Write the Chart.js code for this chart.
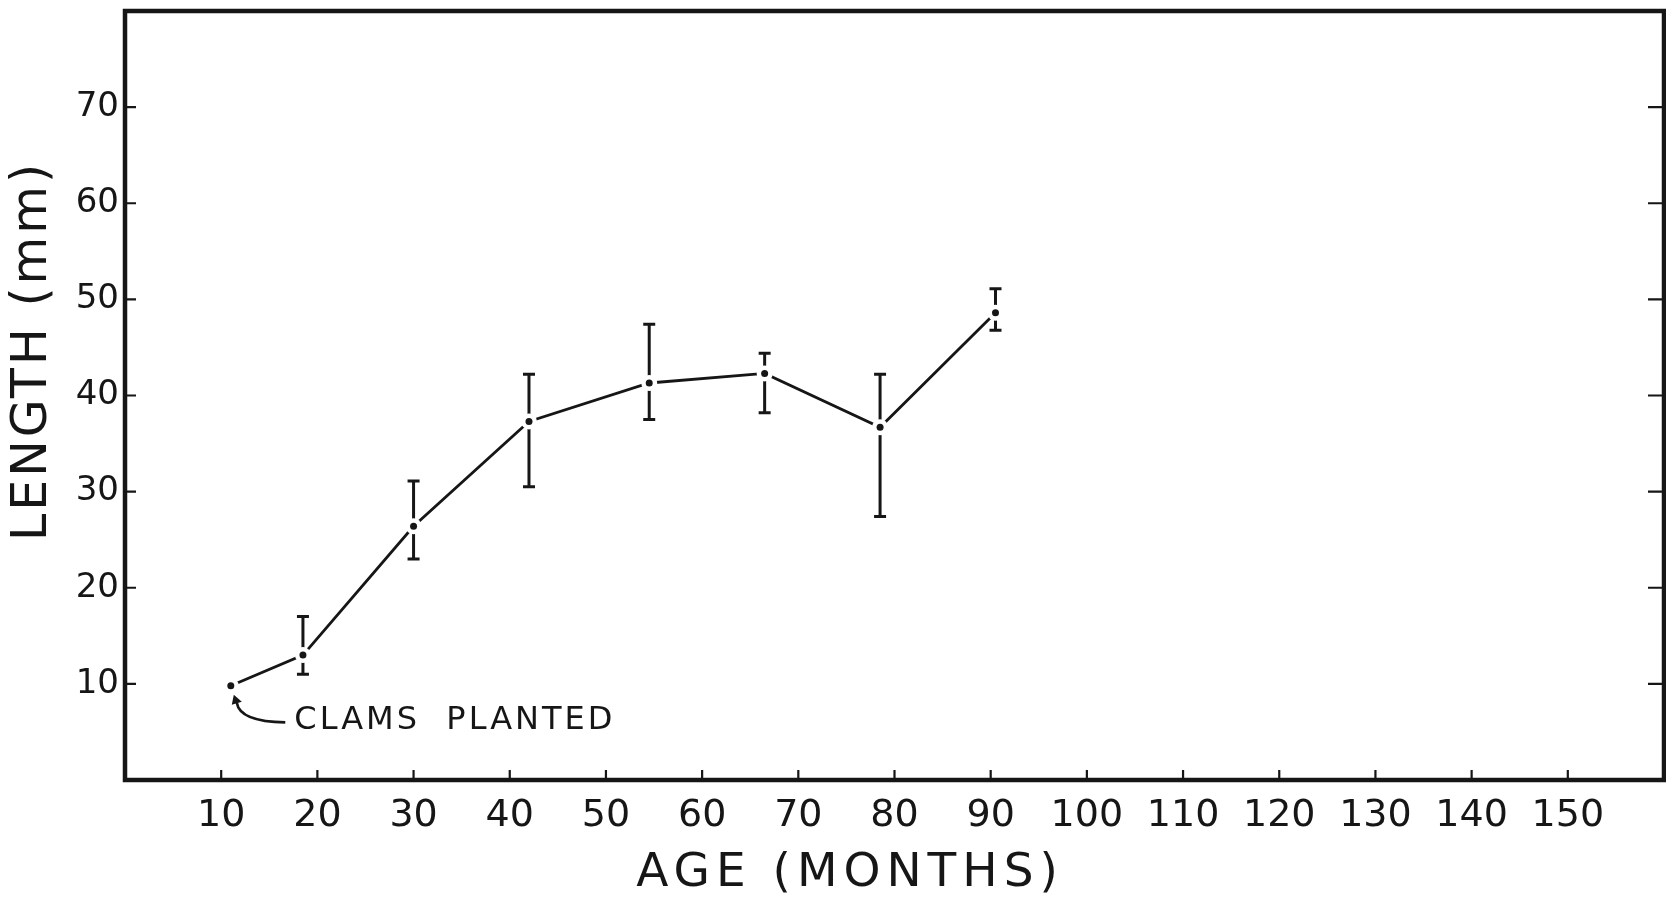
<!DOCTYPE html>
<html>
<head>
<meta charset="utf-8">
<script src="https://cdn.jsdelivr.net/npm/chart.js@4"></script>
<style>
  html, body { margin: 0; padding: 0; background: #fff; overflow: hidden; }
  /* a little wider than the window: the right frame edge sits just off the page, as in the scan */
  #wrap { width: 1672px; height: 897px; position: relative; }
</style>
</head>
<body>
<div id="wrap"><canvas id="growth"></canvas></div>
<script>
// Data: mean shell length by age, with range bars
const ageMonths = [11, 18.5, 30, 42, 54.5, 66.5, 78.5, 90.5];
const lengthMm  = [9.8, 13.0, 26.4, 37.3, 41.3, 42.3, 36.7, 48.6];
const errHigh   = [null, 17.0, 31.1, 42.2, 47.4, 44.4, 42.2, 51.1];
const errLow    = [null, 11.0, 23.0, 30.5, 37.5, 38.2, 27.4, 46.8];

const xTickVals = [10, 20, 30, 40, 50, 60, 70, 80, 90, 100, 110, 120, 130, 140, 150];
const yTickVals = [10, 20, 30, 40, 50, 60, 70];

const xTitle = 'AGE (MONTHS)';
const yTitle = 'LENGTH (mm)';
const noteText = 'CLAMS  PLANTED';
const noteAge = 17.6;   // left edge of the note, in months
const noteLen = 6.2;    // vertical middle of the note, in mm

const ink = '#161616';
const points = ageMonths.map((a, i) => ({ x: a, y: lengthMm[i] }));

// error bars, frame, ticks, titles and the note
const frame = {
  id: 'frame',
  beforeDatasetsDraw(chart) {
    const ctx = chart.ctx, xs = chart.scales.x, ys = chart.scales.y;
    ctx.save();
    ctx.strokeStyle = ink;
    ctx.lineWidth = 3;
    ageMonths.forEach((a, i) => {
      if (errHigh[i] == null) return;
      const x = xs.getPixelForValue(a);
      const yt = ys.getPixelForValue(errHigh[i]);
      const yb = ys.getPixelForValue(errLow[i]);
      ctx.beginPath();
      ctx.moveTo(x, yt); ctx.lineTo(x, yb);
      ctx.moveTo(x - 6, yt); ctx.lineTo(x + 6, yt);
      ctx.moveTo(x - 6, yb); ctx.lineTo(x + 6, yb);
      ctx.stroke();
    });
    ctx.restore();
  },
  afterDraw(chart) {
    const ctx = chart.ctx, a = chart.chartArea;
    const xs = chart.scales.x, ys = chart.scales.y;
    ctx.save();
    ctx.strokeStyle = ink;
    ctx.fillStyle = ink;

    // box
    ctx.lineWidth = 4.5;
    ctx.strokeRect(a.left, a.top, a.right - a.left, a.bottom - a.top);

    // tick marks, all pointing into the plot
    ctx.lineWidth = 2.2;
    ctx.beginPath();
    xTickVals.forEach(v => {
      const x = xs.getPixelForValue(v);
      ctx.moveTo(x, a.bottom); ctx.lineTo(x, a.bottom - 10);
    });
    yTickVals.forEach(v => {
      const y = ys.getPixelForValue(v);
      ctx.moveTo(a.left, y); ctx.lineTo(a.left + 11, y);
      ctx.moveTo(a.right, y); ctx.lineTo(a.right - 16, y);
    });
    ctx.stroke();

    // axis titles
    ctx.textAlign = 'center';
    ctx.textBaseline = 'middle';
    ctx.font = '47px "DejaVu Sans"';
    ctx.letterSpacing = '6px';
    ctx.fillText(xTitle, 850, 874);

    ctx.save();
    ctx.translate(33, 351);
    ctx.rotate(-Math.PI / 2);
    ctx.font = '49px "DejaVu Sans"';
    ctx.letterSpacing = '3px';
    ctx.fillText(yTitle, 0, 0);
    ctx.restore();

    // note with curved arrow to the first point
    const nx = xs.getPixelForValue(noteAge), ny = ys.getPixelForValue(noteLen);
    ctx.font = '32px "DejaVu Sans"';
    ctx.letterSpacing = '3px';
    ctx.textAlign = 'left';
    ctx.fillText(noteText, nx, ny);

    const px = xs.getPixelForValue(ageMonths[0]);
    const py = ys.getPixelForValue(lengthMm[0]);
    ctx.lineWidth = 2.6;
    ctx.beginPath();
    ctx.moveTo(nx - 9, ny + 2);
    ctx.quadraticCurveTo(px + 9, py + 36, px + 6, py + 17);
    ctx.stroke();
    ctx.beginPath();
    ctx.moveTo(px + 3, py + 9);
    ctx.lineTo(px + 1, py + 19);
    ctx.lineTo(px + 11, py + 16);
    ctx.closePath();
    ctx.fill();
    ctx.restore();
  }
};

new Chart(document.getElementById('growth'), {
  type: 'scatter',
  data: {
    datasets: [
      {
        // dots on top
        data: points,
        showLine: false,
        pointRadius: 3.5,
        pointBackgroundColor: ink,
        pointBorderWidth: 0
      },
      {
        // connecting line, with white halos that open a gap around each point
        data: points,
        showLine: true,
        borderColor: ink,
        borderWidth: 2.8,
        pointRadius: 8,
        pointBackgroundColor: '#fff',
        pointBorderWidth: 0
      }
    ]
  },
  options: {
    responsive: true,
    maintainAspectRatio: false,
    devicePixelRatio: 1,
    animation: false,
    layout: { padding: { top: 11, right: 0, left: 0, bottom: 0 } },
    plugins: { legend: { display: false }, tooltip: { enabled: false } },
    scales: {
      x: {
        type: 'linear',
        min: 0,
        max: 160,
        afterBuildTicks: s => { s.ticks = xTickVals.map(v => ({ value: v })); },
        afterFit: s => { s.height = 117; s.paddingLeft = 0; s.paddingRight = 0; },
        grid: { display: false, drawTicks: false },
        border: { display: false },
        ticks: {
          color: ink,
          padding: 13,
          maxRotation: 0,
          autoSkip: false,
          font: { family: 'DejaVu Sans', size: 38 }
        }
      },
      y: {
        type: 'linear',
        min: 0,
        max: 80,
        afterBuildTicks: s => { s.ticks = yTickVals.map(v => ({ value: v })); },
        afterFit: s => { s.width = 125; s.paddingTop = 0; s.paddingBottom = 0; },
        grid: { display: false, drawTicks: false },
        border: { display: false },
        ticks: {
          color: ink,
          padding: 6,
          autoSkip: false,
          font: { family: 'DejaVu Sans', size: 34 }
        }
      }
    }
  },
  plugins: [frame]
});
</script>
</body>
</html>
